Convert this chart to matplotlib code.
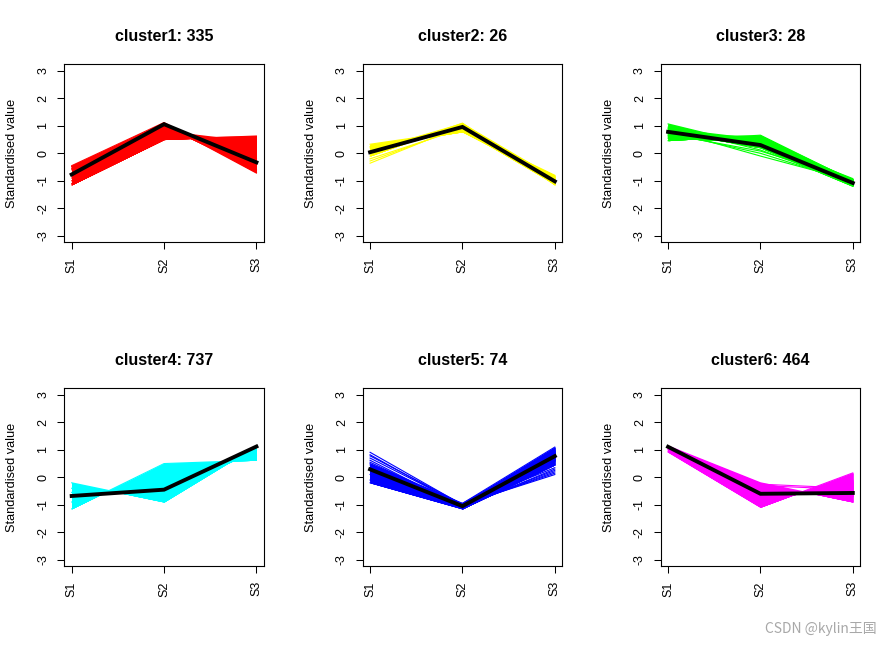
import matplotlib
matplotlib.use('Agg')
import matplotlib.pyplot as plt
import numpy as np

# data
samples = ['S1', 'S2', 'S3']
cluster_names = ['cluster1', 'cluster2', 'cluster3', 'cluster4', 'cluster5', 'cluster6']
cluster_sizes = [335, 26, 28, 737, 74, 464]
colors = ['#FF0000', '#FFFF00', '#00FF00', '#00FFFF', '#0000FF', '#FF00FF']

# profiles: dense core (filled) + loose lines + cluster mean
c1_core = [[-0.45, 1.12, -0.70], [-1.15, 0.50, 0.63], [-0.77, 1.05, -0.34], [-1.00, 0.55, 0.60],
           [-0.60, 0.90, -0.20], [-0.50, 1.00, -0.60], [-1.10, 0.70, 0.20], [-0.90, 0.80, 0.40]]
c1_loose = [[-0.48, 1.05, -0.65], [-0.55, 1.08, -0.72]]
c1_mean = [-0.77, 1.06, -0.33]

c2_core = [[0.33, 0.82, -0.80], [-0.10, 1.10, -1.15], [0.10, 1.08, -0.90], [0.20, 0.85, -1.12],
           [0.00, 0.95, -1.00], [0.25, 0.78, -0.95]]
c2_loose = [[-0.36, 1.00, -1.10], [-0.28, 0.95, -1.05], [-0.20, 0.90, -1.08]]
c2_mean = [0.04, 0.96, -1.02]

c3_core = [[0.46, 0.66, -1.00], [1.07, 0.25, -1.15], [0.90, 0.50, -0.95], [0.60, 0.60, -1.10],
           [0.80, 0.20, -1.20], [0.55, 0.40, -0.92]]
c3_loose = [[0.85, -0.10, -1.00], [0.75, 0.00, -1.05], [0.70, 0.08, -0.95], [0.95, 0.12, -1.10],
            [0.65, 0.62, -0.98], [0.72, 0.55, -1.05]]
c3_mean = [0.78, 0.30, -1.08]

c4_core = [[-0.20, -0.90, 1.14], [-1.15, 0.50, 0.62], [-0.70, -0.45, 1.10], [-0.55, -0.60, 1.00],
           [-0.90, 0.00, 0.80], [-0.40, -0.70, 1.12]]
c4_loose = []
c4_mean = [-0.68, -0.45, 1.12]

c5_core = [[0.50, -0.95, 1.10], [-0.20, -1.15, 0.45], [0.30, -1.05, 0.77], [0.10, -0.95, 0.90],
           [0.45, -1.15, 0.60], [-0.10, -1.00, 1.00]]
c5_loose = [[0.91, -1.00, 0.35], [0.82, -1.05, 0.25], [0.70, -1.00, 0.15], [0.62, -1.10, 0.30],
            [0.55, -1.05, 0.20], [0.78, -0.98, 0.10]]
c5_mean = [0.29, -1.05, 0.77]

c6_core = [[1.14, -0.20, -0.90], [0.92, -1.09, 0.16], [1.00, -0.60, -0.50], [1.10, -0.80, -0.20],
           [0.95, -0.40, -0.70], [1.05, -0.95, -0.10]]
c6_loose = [[1.12, -0.25, -0.40], [1.08, -0.30, -0.45], [1.02, -0.72, -0.35]]
c6_mean = [1.11, -0.60, -0.57]

cores = [c1_core, c2_core, c3_core, c4_core, c5_core, c6_core]
loose = [c1_loose, c2_loose, c3_loose, c4_loose, c5_loose, c6_loose]
means = [c1_mean, c2_mean, c3_mean, c4_mean, c5_mean, c6_mean]

# layout (pixels)
W, H = 893, 647
lefts = [64.3, 362.7, 660.7]
tops = [64.3, 388.3]
aw, ah = 199.5, 178

plt.rcParams['font.family'] = ['Liberation Sans', 'DejaVu Sans']
fig = plt.figure(figsize=(W / 100, H / 100), dpi=100, facecolor='w')

x = np.arange(1, len(samples) + 1)
for i in range(6):
    r, c = divmod(i, 3)
    ax = fig.add_axes([lefts[c] / W, 1 - (tops[r] + ah) / H, aw / W, ah / H])
    col = colors[i]

    # fill between every pair of core profiles -> union of the bundle
    core = [np.array(p) for p in cores[i]]
    for a in range(len(core)):
        for b in range(a + 1, len(core)):
            ax.fill_between(x, core[a], core[b], interpolate=True, color=col, lw=0)
    for p in cores[i] + loose[i]:
        ax.plot(x, p, color=col, lw=0.8)
    ax.plot(x, means[i], color='black', lw=2.8, solid_joinstyle='miter')

    ax.set_xlim(0.92, 3.08)
    ax.set_ylim(-3.24, 3.24)
    ax.set_xticks(x)
    ax.set_xticklabels(samples, rotation=90)
    ax.set_yticks(np.arange(-3, 4))
    ax.set_yticklabels([str(v) for v in range(-3, 4)], rotation=90, va='center')
    ax.tick_params(direction='out', length=5.2, width=0.75, labelsize=9, pad=5.5)
    for s in ax.spines.values():
        s.set_linewidth(0.8)
    ax.set_title('%s: %d' % (cluster_names[i], cluster_sizes[i]), fontsize=11.5,
                 fontweight='bold', pad=17)
    ax.set_ylabel('Standardised value', fontsize=9.2, va='center')
    ax.yaxis.set_label_coords(-52 / aw, 0.5)

fig.text(877 / W, 1 - 629 / H, 'CSDN @kylin王国', ha='right', va='center', color='#a8a8a8',
         fontsize=10, family=['Noto Sans CJK SC', 'DejaVu Sans'])

fig.savefig('out.png', dpi=100, facecolor='w')
